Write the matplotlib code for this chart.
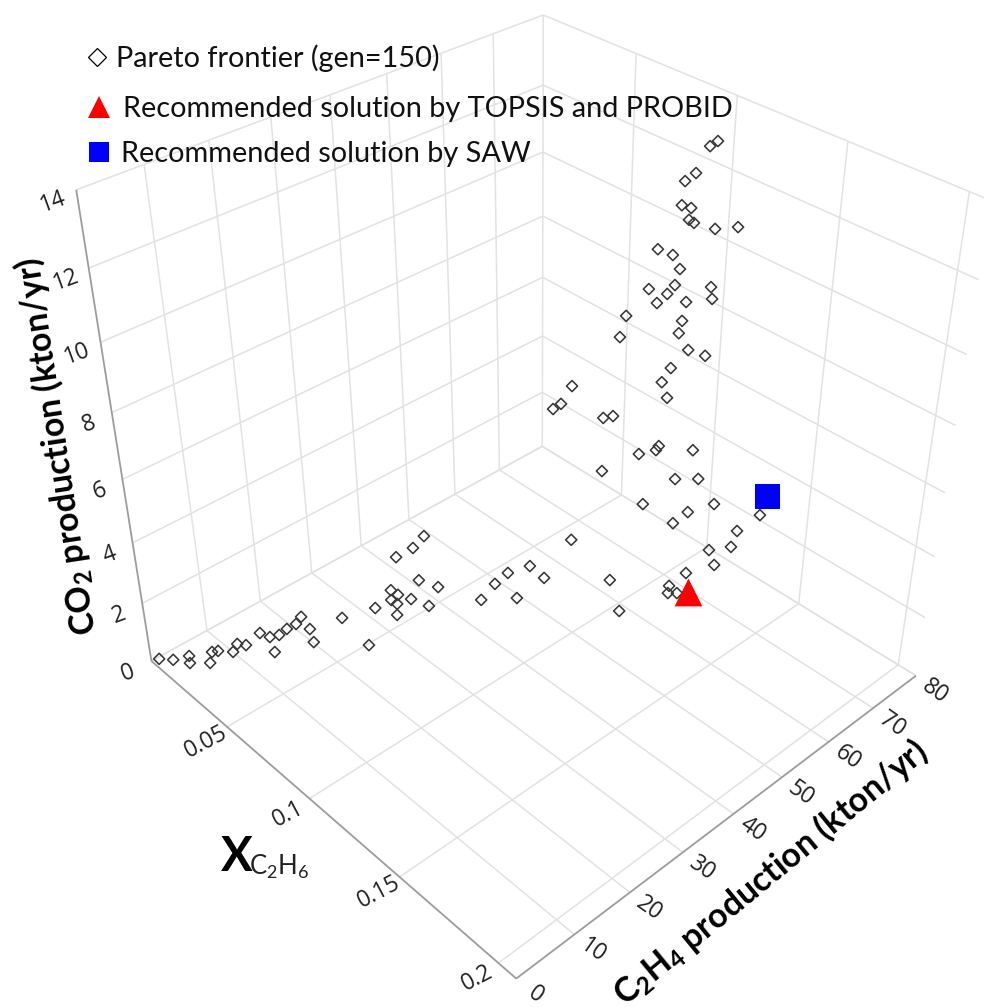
import numpy as np
import matplotlib
matplotlib.use('Agg')
import matplotlib.pyplot as plt
from matplotlib.lines import Line2D
from mpl_toolkits.mplot3d import proj3d

x_ticks = [0, 0.05, 0.1, 0.15, 0.2]
x_tick_labels = ['', '0.05', '0.1', '0.15', '0.2']
c_ticks = [0, 10, 20, 30, 40, 50, 60, 70, 80]
z_ticks = [0, 2, 4, 6, 8, 10, 12, 14]
x_axis_end = 0.2085

pareto_x = [0.0025, 0.0067, 0.0091, 0.0127, 0.0180, 0.0133, 0.0144, 0.0189, 0.0162, 0.0191, 0.0185, 0.0217, 0.0301,
            0.0232, 0.0231, 0.0248, 0.0257, 0.0287, 0.0359, 0.0327, 0.0521, 0.0386, 0.0416, 0.0415, 0.0427, 0.0425,
            0.0458, 0.0450, 0.0503, 0.0466, 0.0499, 0.0428, 0.0458, 0.0478, 0.0619, 0.0601, 0.0625, 0.0709, 0.0666,
            0.0692, 0.0741, 0.0886, 0.1048, 0.0873, 0.0795, 0.0812, 0.0898, 0.0908, 0.0862, 0.0893, 0.0898, 0.0962,
            0.0795, 0.0931, 0.0975, 0.1067, 0.0959, 0.0932, 0.1306, 0.1197, 0.1172, 0.1057, 0.1112, 0.1068, 0.1077,
            0.1105, 0.1130, 0.0973, 0.0960, 0.0939, 0.0921, 0.0918, 0.0934, 0.0931, 0.0940, 0.0981, 0.1090, 0.0881,
            0.0907, 0.0920, 0.0868, 0.0913, 0.0900, 0.0883, 0.0934, 0.0979, 0.0988, 0.0830, 0.0821, 0.0928, 0.0924,
            0.0942, 0.0973, 0.0913, 0.0739, 0.0706, 0.0720]
pareto_c = [0.8, 2.2, 4.4, 3.6, 5.8, 7.4, 8.2, 9.7, 11.2, 12.0, 14.8, 15.7, 14.2,
            17.0, 18.5, 19.8, 20.6, 21.2, 19.8, 26.2, 25.4, 30.9, 33.2, 33.2, 34.2, 34.0,
            32.9, 36.0, 37.8, 37.2, 39.9, 34.2, 36.6, 38.2, 44.6, 48.1, 50.0, 48.9, 53.2,
            55.3, 59.3, 62.4, 58.2, 69.8, 63.6, 65.0, 71.8, 72.7, 68.9, 71.4, 71.8, 76.9,
            63.6, 74.5, 78.0, 78.0, 76.7, 74.5, 78.0, 78.0, 78.0, 78.0, 77.0, 72.3, 68.1,
            66.7, 67.7, 77.8, 76.8, 75.1, 73.7, 73.4, 74.7, 74.5, 75.2, 78.0, 78.0, 70.4,
            72.5, 73.6, 69.4, 73.0, 72.0, 70.6, 74.7, 78.0, 78.0, 66.4, 65.6, 74.3, 73.9,
            75.4, 77.9, 73.0, 59.1, 56.5, 57.6]
pareto_z = [0.10, 0.10, 0.10, 0.10, 0.10, 0.10, 0.10, 0.10, 0.10, 0.10, 0.20, 0.10, 0.10,
            0.10, 0.15, 0.26, 0.47, 0.10, 0.10, 0.14, 0.10, 0.25, 0.77, 0.42, 0.55, 0.24,
            0.10, 0.31, 0.10, 0.92, 0.54, 1.87, 2.07, 2.40, 0.10, 0.24, 0.54, 0.10, 0.63,
            0.10, 1.26, 0.10, 0.10, 2.02, 5.18, 5.18, 5.99, 5.45, 3.77, 3.79, 3.91, 3.55,
            3.43, 2.67, 2.52, 1.99, 1.42, 1.13, 2.52, 1.55, 0.89, 0.32, 0.10, 0.10, 0.10,
            0.10, 0.10, 12.85, 12.74, 12.06, 11.88, 11.22, 11.10, 10.77, 10.66, 10.41, 10.76, 10.07,
            9.83, 9.38, 8.94, 8.93, 8.70, 8.48, 8.36, 8.70, 8.37, 8.25, 7.64, 7.80, 7.44,
            6.86, 6.58, 6.39, 6.38, 5.76, 5.88]
topsis_point = [0.1156, 69.2, 0.10]
saw_point = [0.1333, 78.0, 3.27]

FW, FH = 984, 1007
grid_color = '#e2e2e2'
axis_color = '#9c9c9c'
tick_color = '#222222'
plt.rcParams['font.family'] = ['Lato', 'DejaVu Sans']
plt.rcParams['mathtext.default'] = 'regular'

fig = plt.figure(figsize=(FW / 100, FH / 100), dpi=100)
# camera fitted to the box corners of the picture
W, left, top = 967.54, 25.97, -22.80
ax = fig.add_axes([left / FW, 1 - (top + W) / FH, W / FW, W / FH], projection='3d', computed_zorder=False)
ax.set_axis_off()
ax.view_init(elev=35.563, azim=-42.832, roll=0.292)
ax.set_proj_type('persp', focal_length=0.3586)
ax.set_box_aspect((1, 1.0466, 1.0246))
ax.set_xlim(0, 0.2, view_margin=0)
ax.set_ylim(0, 80, view_margin=0)
ax.set_zlim(0, 14, view_margin=0)
ax.set_autoscale_on(False)

xmax, cmax, zmax = x_ticks[-1], c_ticks[-1], z_ticks[-1]
def line(xs, ys, zs, color=grid_color, lw=1.1):
    ax.plot(xs, ys, zs, color=color, lw=lw, zorder=1, solid_capstyle='butt', clip_on=False)

for c in c_ticks:
    if c > 0:
        line([0, x_axis_end], [c, c], [0, 0])
        line([0, 0], [c, c], [0, zmax])
for x in x_ticks:
    line([x, x], [0, cmax], [0, 0])
    if x > 0:
        line([x, x], [cmax, cmax], [0, zmax])
for z in z_ticks:
    line([0, 0], [0, cmax], [z, z])
    line([0, x_axis_end], [cmax, cmax], [z, z])
line([0, x_axis_end], [0, 0], [0, 0], axis_color, 1.3)
line([x_axis_end, x_axis_end], [0, cmax], [0, 0], axis_color, 1.3)
line([0, 0], [0, 0], [0, zmax], axis_color, 1.3)

ax.scatter(pareto_x, pareto_c, pareto_z, marker='D', s=32, facecolors='none', edgecolors='#383838',
           linewidths=1.15, depthshade=False, zorder=3)
ax.scatter(*[[v] for v in topsis_point], marker='^', s=400, color='#ff0000', linewidths=0, depthshade=False, zorder=4)
ax.scatter(*[[v] for v in saw_point], marker='s', s=324, color='#0000ff', linewidths=0, depthshade=False, zorder=4)

M = ax.get_proj()
def tick(x, y, z, label, dx, dy, rot):
    px, py, _ = proj3d.proj_transform(x, y, z, M)
    ax.annotate(label, (px, py), xytext=(dx, -dy), textcoords='offset pixels', ha='center', va='center',
                rotation=rot, rotation_mode='anchor', fontsize=16.5, color=tick_color, family='Open Sans',
                annotation_clip=False)

for z in z_ticks:
    tick(0, 0, z, str(z), -23, 12, 20)
for x, lab in zip(x_ticks, x_tick_labels):
    tick(x, 0, 0, lab, -21, 15.5, 28)
for c in c_ticks:
    tick(x_axis_end, c, 0, str(c), 19, 16, -35)

def ftext(px, py, s, **kw):
    fig.text(px / FW, 1 - py / FH, s, ha='center', va='center', rotation_mode='anchor', **kw)

ftext(57, 446, 'CO$_2$ production (kton/yr)', rotation=98.6, fontsize=24.4, fontweight='bold', color='black')
ftext(771, 873, 'C$_2$H$_4$ production (kton/yr)', rotation=39.5, fontsize=24.4, fontweight='bold', color='black')
ftext(237, 857, 'X', fontsize=34, fontweight='bold', color='black')
ftext(279, 867, 'C$_2$H$_6$', fontsize=18.5, color='#222222')

legend_rows = [
    (Line2D([], [], ls='', marker='D', ms=9.2, mfc='white', mec='black', mew=0.9), 'Pareto frontier (gen=150)', 82.5, 58, 0.16),
    (Line2D([], [], ls='', marker='^', ms=16, mfc='#ff0000', mew=0), 'Recommended solution by TOPSIS and PROBID', 85, 109, 0.30),
    (Line2D([], [], ls='', marker='s', ms=14.4, mfc='#0000ff', mew=0), 'Recommended solution by SAW', 84.5, 154, 0.26),
]
for handle, label, lx, ly, pad in legend_rows:
    fig.legend(handles=[handle], labels=[label], loc='center left', bbox_to_anchor=(lx / FW, 1 - ly / FH),
               frameon=False, fontsize=20.8, handlelength=1, handletextpad=pad, borderpad=0, borderaxespad=0,
               numpoints=1, labelcolor='#111111')

fig.savefig('out.png', dpi=100)
